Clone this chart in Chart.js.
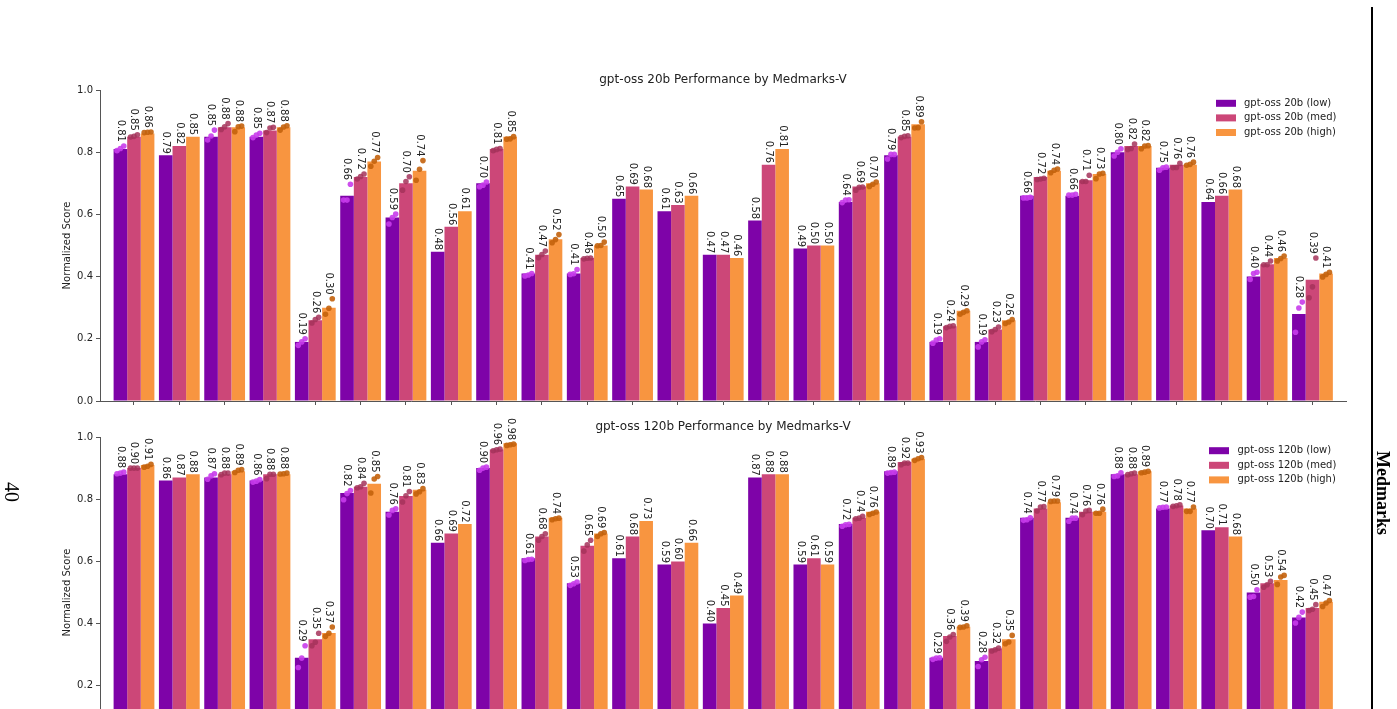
<!DOCTYPE html>
<html><head><meta charset="utf-8">
<script src="https://cdn.jsdelivr.net/npm/chart.js@4.4.1/dist/chart.umd.min.js"></script>
<style>
html,body{margin:0;padding:0;width:1397px;height:709px;overflow:hidden;background:#fff;}
canvas{position:absolute;left:0;}
#c1{top:0px} #c2{top:347px}
.pg{position:absolute;font-family:'Liberation Serif','DejaVu Serif',serif;color:#000;white-space:nowrap;line-height:1;}
</style></head><body>
<canvas id="c1" width="1397" height="440"></canvas>
<canvas id="c2" width="1397" height="440"></canvas>
<div style="position:absolute;left:1371px;top:7px;width:2px;height:702px;background:#000"></div>
<div class="pg" style="left:12px;top:492px;font-size:20px;transform:translate(-50%,-50%) rotate(90deg)">40</div>
<div class="pg" style="left:1383px;top:493px;font-size:18px;font-weight:bold;transform:translate(-50%,-50%) rotate(90deg)">Medmarks</div>
<script>
const categories = ['1','2','3','4','5','6','7','8','9','10','11','12','13','14','15','16','17','18','19','20','21','22','23','24','25','26','27'];
const tickValues = [0.0, 0.2, 0.4, 0.6, 0.8, 1.0];

const series20 = ['gpt-oss 20b (low)', 'gpt-oss 20b (med)', 'gpt-oss 20b (high)'];
const series120 = ['gpt-oss 120b (low)', 'gpt-oss 120b (med)', 'gpt-oss 120b (high)'];

const low20  = [0.81,0.79,0.85,0.85,0.19,0.66,0.59,0.48,0.70,0.41,0.41,0.65,0.61,0.47,0.58,0.49,0.64,0.79,0.19,0.19,0.66,0.66,0.80,0.75,0.64,0.40,0.28];
const med20  = [0.85,0.82,0.88,0.87,0.26,0.72,0.70,0.56,0.81,0.47,0.46,0.69,0.63,0.47,0.76,0.50,0.69,0.85,0.24,0.23,0.72,0.71,0.82,0.76,0.66,0.44,0.39];
const high20 = [0.86,0.85,0.88,0.88,0.30,0.77,0.74,0.61,0.85,0.52,0.50,0.68,0.66,0.46,0.81,0.50,0.70,0.89,0.29,0.26,0.74,0.73,0.82,0.76,0.68,0.46,0.41];

const low120  = [0.88,0.86,0.87,0.86,0.29,0.82,0.76,0.66,0.90,0.61,0.53,0.61,0.59,0.40,0.87,0.59,0.72,0.89,0.29,0.28,0.74,0.74,0.88,0.77,0.70,0.50,0.42];
const med120  = [0.90,0.87,0.88,0.88,0.35,0.84,0.81,0.69,0.96,0.68,0.65,0.68,0.60,0.45,0.88,0.61,0.74,0.92,0.36,0.32,0.77,0.76,0.88,0.78,0.71,0.53,0.45];
const high120 = [0.91,0.88,0.89,0.88,0.37,0.85,0.83,0.72,0.98,0.74,0.69,0.73,0.66,0.49,0.88,0.59,0.76,0.93,0.39,0.35,0.79,0.76,0.89,0.77,0.68,0.54,0.47];

// individual runs (dots), empty where none shown
const runsLow20 = [[0.805,0.812,0.820],[],[0.839,0.852,0.871],[0.847,0.855,0.861],[0.179,0.190,0.200],[0.646,0.646,0.697],[0.569,0.590,0.601],[],[0.689,0.694,0.704],[0.402,0.405,0.410],[0.407,0.409,0.423],[],[],[],[],[],[0.638,0.646,0.647],[0.778,0.793,0.793],[0.186,0.196,0.200],[0.174,0.190,0.197],[0.653,0.653,0.655],[0.662,0.662,0.665],[0.788,0.800,0.811],[0.742,0.750,0.752],[],[0.391,0.410,0.414],[0.221,0.299,0.318]];
const runsMed20 = [[0.849,0.851,0.856],[],[0.873,0.882,0.892],[0.863,0.878,0.880],[0.251,0.262,0.269],[0.714,0.722,0.730],[0.678,0.706,0.721],[],[0.805,0.809,0.812],[0.461,0.471,0.482],[0.457,0.459,0.460],[],[],[],[],[],[0.678,0.687,0.688],[0.847,0.851,0.853],[0.236,0.240,0.242],[0.223,0.230,0.238],[0.712,0.714,0.716],[0.706,0.706,0.726],[0.809,0.812,0.826],[0.750,0.751,0.764],[],[0.438,0.438,0.450],[0.332,0.367,0.460]];
const runsHigh20 = [[0.863,0.864,0.865],[],[0.866,0.882,0.884],[0.871,0.881,0.885],[0.279,0.298,0.329],[0.755,0.771,0.783],[0.710,0.745,0.773],[],[0.842,0.843,0.850],[0.509,0.519,0.535],[0.499,0.500,0.511],[],[],[],[],[],[0.690,0.697,0.704],[0.878,0.879,0.898],[0.279,0.285,0.290],[0.249,0.254,0.262],[0.734,0.742,0.746],[0.715,0.730,0.732],[0.811,0.820,0.821],[0.758,0.761,0.768],[],[0.450,0.458,0.466],[0.399,0.407,0.414]];

const runsLow120 = [[0.882,0.884,0.887],[],[0.864,0.875,0.882],[0.855,0.858,0.863],[0.259,0.289,0.329],[0.798,0.818,0.828],[0.749,0.764,0.769],[],[0.893,0.900,0.903],[0.603,0.606,0.607],[0.523,0.528,0.534],[],[],[],[],[],[0.713,0.718,0.719],[0.884,0.886,0.887],[0.285,0.289,0.290],[0.262,0.284,0.292],[0.732,0.734,0.740],[0.729,0.739,0.739],[0.873,0.875,0.885],[0.772,0.774,0.775],[],[0.485,0.487,0.509],[0.402,0.420,0.437]];
const runsMed120 = [[0.900,0.900,0.900],[],[0.879,0.884,0.884],[0.866,0.880,0.880],[0.329,0.340,0.369],[0.837,0.840,0.851],[0.791,0.811,0.825],[],[0.956,0.959,0.961],[0.668,0.680,0.689],[0.633,0.653,0.668],[],[],[],[],[],[0.737,0.739,0.745],[0.911,0.916,0.916],[0.343,0.357,0.365],[0.312,0.316,0.321],[0.762,0.775,0.776],[0.750,0.762,0.764],[0.879,0.882,0.884],[0.777,0.779,0.782],[],[0.517,0.525,0.536],[0.442,0.446,0.461]];
const runsHigh120 = [[0.903,0.906,0.912],[],[0.886,0.893,0.895],[0.881,0.882,0.884],[0.359,0.369,0.389],[0.820,0.865,0.873],[0.817,0.824,0.834],[],[0.973,0.975,0.977],[0.734,0.737,0.739],[0.680,0.689,0.693],[],[],[],[],[],[0.751,0.755,0.759],[0.925,0.930,0.934],[0.388,0.389,0.393],[0.335,0.341,0.362],[0.793,0.794,0.794],[0.755,0.755,0.768],[0.885,0.887,0.890],[0.761,0.761,0.775],[],[0.526,0.550,0.555],[0.455,0.466,0.474]];

const barColors = ['#7e03a8', '#cc4778', '#f89540'];
const dotColors = ['rgba(200,60,235,0.9)', 'rgba(165,50,90,0.85)', 'rgba(195,98,12,0.9)'];
const FONT = "'DejaVu Sans', sans-serif";
const AXIS = '#555';
const TXT = '#222';

function makeChart(id, title, names, values, runs, legend) {
  const datasets = [];
  const barW = 0.3, jitter = 0.075;
  values.forEach((vals, k) => {
    datasets.push({
      type: 'bar', label: names[k],
      data: vals.map((v, i) => ({x: i, y: v})),
      backgroundColor: barColors[k], borderWidth: 0,
      categoryPercentage: 0.9, barPercentage: 1.0, order: 1
    });
  });
  runs.forEach((rr, k) => {
    const pts = [];
    rr.forEach((arr, i) => arr.forEach((r, j) => pts.push({x: i + (k - 1) * barW + (j - 1) * jitter, y: r})));
    datasets.push({
      type: 'scatter', label: '_runs' + k, data: pts,
      backgroundColor: dotColors[k], borderWidth: 0, pointRadius: 2.8, pointHoverRadius: 2.8, order: 0
    });
  });

  const decor = {
    id: 'decor',
    afterDatasetsDraw(chart) {
      const ctx = chart.ctx, ys = chart.scales.y;
      ctx.save();
      ctx.font = '10px ' + FONT;
      ctx.fillStyle = TXT;
      values.forEach((vals, k) => {
        const meta = chart.getDatasetMeta(k);
        vals.forEach((v, i) => {
          const el = meta.data[i];
          let yEnd = el.y;
          const rr = runs[k][i];
          if (rr.length) yEnd = Math.min(yEnd, ys.getPixelForValue(Math.max(...rr)) - 2.5);
          yEnd -= 1.5;
          ctx.save();
          ctx.translate(el.x, yEnd);
          ctx.rotate(Math.PI / 2);
          ctx.textAlign = 'right';
          ctx.textBaseline = 'middle';
          ctx.fillText(v.toFixed(2), 0, 0);
          ctx.restore();
        });
      });
      ctx.restore();
    },
    afterDraw(chart) {
      const ctx = chart.ctx, a = chart.chartArea;
      ctx.save();
      ctx.fillStyle = TXT;
      ctx.font = '12px ' + FONT;
      ctx.textAlign = 'center';
      ctx.textBaseline = 'middle';
      ctx.fillText(title, (a.left + a.right) / 2, 80);
      ctx.font = '10px ' + FONT;
      ctx.save();
      ctx.translate(67, (a.top + a.bottom) / 2);
      ctx.rotate(-Math.PI / 2);
      ctx.fillText('Normalized Score', 0, 0);
      ctx.restore();
      ctx.textAlign = 'left';
      names.forEach((n, k) => {
        const cy = legend.y0 + k * 14.6;
        ctx.fillStyle = barColors[k];
        ctx.fillRect(legend.x, cy - 3.5, 20, 7);
        ctx.fillStyle = TXT;
        ctx.fillText(n, legend.tx, cy);
      });
      ctx.restore();
    }
  };

  return new Chart(document.getElementById(id), {
    data: {datasets},
    options: {
      responsive: false, animation: false,
      events: [],
      layout: {padding: {top: 90, left: 0, right: 51, bottom: 29}},
      plugins: {legend: {display: false}, title: {display: false}, tooltip: {enabled: false}},
      scales: {
        x: {
          type: 'linear', min: -0.75, max: 26.74, offset: false,
          afterBuildTicks: (s) => { s.ticks = categories.map((c, i) => ({value: i})); },
          afterFit: (s) => { s.height = 10; },
          ticks: {callback: () => '', autoSkip: false},
          grid: {drawOnChartArea: false, drawTicks: true, tickLength: 4, color: AXIS, offset: false},
          border: {display: true, color: AXIS, width: 1}
        },
        y: {
          min: 0, max: 1,
          afterBuildTicks: (s) => { s.ticks = tickValues.map(v => ({value: v})); },
          afterFit: (s) => { s.width = 100; },
          ticks: {callback: (v) => Number(v).toFixed(1), font: {family: FONT, size: 10}, color: TXT, padding: 3},
          grid: {drawOnChartArea: false, drawTicks: true, tickLength: 4, color: AXIS},
          border: {display: true, color: AXIS, width: 1}
        }
      }
    },
    plugins: [decor]
  });
}

makeChart('c1', 'gpt-oss 20b Performance by Medmarks-V', series20,
  [low20, med20, high20], [runsLow20, runsMed20, runsHigh20], {x: 1216, tx: 1244, y0: 103.3});
makeChart('c2', 'gpt-oss 120b Performance by Medmarks-V', series120,
  [low120, med120, high120], [runsLow120, runsMed120, runsHigh120], {x: 1209, tx: 1237.5, y0: 103.7});
</script>
</body></html>
